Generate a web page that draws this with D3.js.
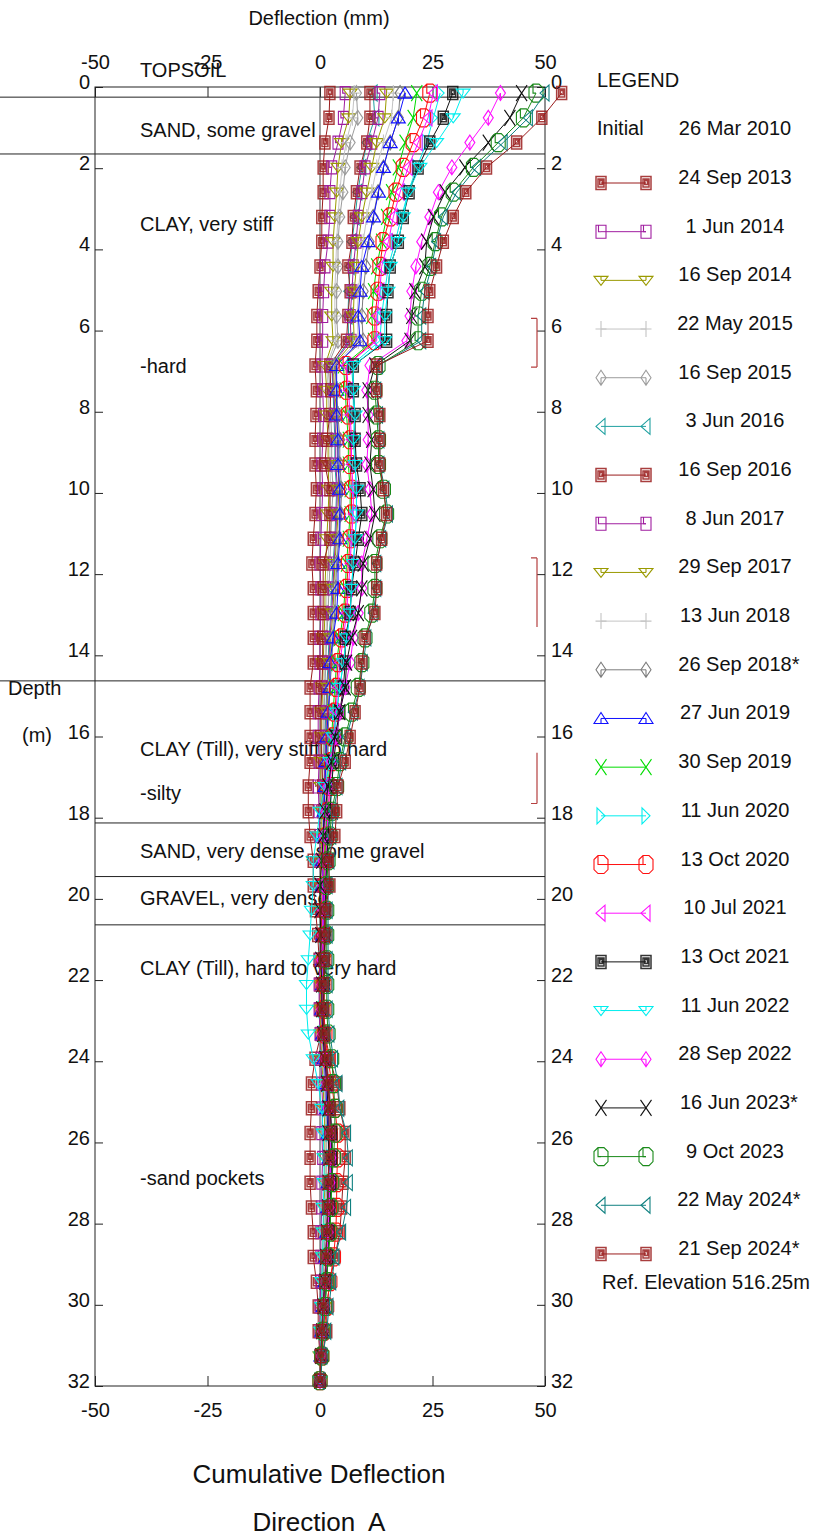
<!DOCTYPE html>
<html>
<head>
<meta charset="utf-8">
<script src="https://cdn.jsdelivr.net/npm/d3@7"></script>
<style>
  body { margin: 0; background: #fff; }
  svg text { font-family: "Liberation Sans", Arial, sans-serif; fill: #111; }
</style>
</head>
<body>
<svg id="chart" width="825" height="1539"></svg>
<script>
// Probe depths (m)
const depths = [0.15,0.76,1.37,1.98,2.59,3.20,3.81,4.42,5.03,5.64,6.25,6.86,7.47,8.08,8.69,9.30,9.91,10.52,11.13,11.74,12.35,12.96,13.57,14.18,14.79,15.40,16.01,16.62,17.23,17.84,18.45,19.06,19.67,20.28,20.89,21.50,22.11,22.72,23.33,23.94,24.55,25.16,25.77,26.38,26.99,27.60,28.21,28.82,29.43,30.04,30.65,31.26,31.87];

// Cumulative deflection (mm), direction A, one array per reading
const sep2013 = [2.2,2.0,1.1,0.7,0.7,0.4,0.4,0.0,-0.4,-0.7,-0.7, -1.1,-0.8,-0.9,-1.1,-1.1,-0.8,-1.1,-1.5,-1.8,-1.5, -1.5,-1.5,-1.5,-2.2,-2.2,-2.2,-2.2,-2.6,-2.6,-2.2, -1.5,-1.5,-1.0,-0.5,-0.2,0.0,0.0,0.2,-1.1,-1.9, -1.9,-2.2,-2.2,-2.2,-1.9,-1.5,-1.5,-0.8,-0.4,-0.4,0.0,0.0];
const jun2014 = [5.6,5.2,4.0,2.6,2.2,2.2,1.8,1.1,0.8,0.6,0.6, 0.4,0.6,0.8,0.6,0.4,0.6,0.4,0.2,0.0,0.2, 0.2,0.0,0.0,-0.2,-0.4,-0.4,-0.2,-0.4,-0.2,0.0, 0.0,0.2,0.4,0.2,0.0,-0.2,-0.2,0.0,0.2,0.4, 0.6,0.4,0.6,0.4,0.4,0.2,0.2,0.2,0.0,0.0,0.0,0.0];
const sep2014 = [6.7,6.4,4.8,4.0,3.7,3.3,2.9,2.9,2.6,2.6,2.9, 1.1,1.5,1.5,1.8,1.8,2.0,1.8,1.5,1.3,1.1, 1.1,0.9,0.7,0.6,0.4,0.4,0.2,0.2,0.4,0.4, 0.2,0.2,0.4,0.4,0.2,0.2,0.0,0.2,0.4,0.7, 0.9,1.1,1.1,1.1,0.9,0.7,0.6,0.4,0.4,0.2,0.0,0.0];
const may2015 = [7.6,7.2,5.8,4.9,4.4,4.0,3.7,3.5,3.3,3.3,3.5, 1.5,1.8,2.0,2.2,2.2,2.4,2.2,2.0,1.8,1.5, 1.5,1.3,1.1,0.9,0.7,0.7,0.6,0.4,0.6,0.6, 0.4,0.4,0.6,0.6,0.4,0.4,0.2,0.4,0.6,0.9, 1.1,1.3,1.3,1.3,1.1,0.9,0.7,0.6,0.4,0.2,0.2,0.0];
const sep2015 = [8.1,8.4,6.7,5.6,5.1,4.4,4.0,4.0,3.7,3.7,4.0, 1.8,2.2,2.4,2.6,2.6,2.9,2.6,2.4,2.2,2.0, 1.8,1.5,1.3,1.1,0.9,0.9,0.7,0.6,0.7,0.7, 0.6,0.6,0.7,0.7,0.6,0.4,0.4,0.6,0.7,1.1, 1.3,1.5,1.5,1.5,1.3,1.1,0.9,0.7,0.6,0.4,0.2,0.0];
const jun2016 = [11.8,12.2,10.4,9.3,8.4,7.8,7.1,6.7,6.4,6.2,6.4, 2.6,2.9,3.1,3.3,3.3,3.7,3.5,3.3,2.9,2.6, 2.4,2.0,1.8,1.5,1.3,1.1,1.1,0.9,0.9,0.9, 0.7,0.7,0.9,0.9,0.7,0.7,0.6,0.7,1.1,1.5, 1.8,2.0,2.2,2.0,1.8,1.5,1.3,1.1,0.7,0.4,0.2,0.0];
const sep2016 = [11.1,11.1,10.4,8.9,8.1,7.4,7.1,6.2,6.7,6.2,5.9, 2.2,2.4,2.2,1.5,1.1,2.2,2.2,2.2,0.7,0.7, 0.7,0.6,0.6,0.4,0.2,0.2,0.4,0.6,0.7,0.9, 0.9,0.7,0.4,0.4,0.7,0.7,0.9,1.1,2.2,3.7, 4.4,5.6,5.6,5.1,4.8,4.4,3.3,2.2,1.5,1.5,0.4,0.0];
const jun2017 = [13.3,12.9,11.5,10.0,9.3,8.5,8.0,7.4,7.1,6.7,6.9, 2.6,3.1,3.3,3.5,3.5,3.9,3.7,3.5,3.1,2.9, 2.6,2.2,2.0,1.7,1.5,1.3,1.1,0.9,0.9,0.9, 0.7,0.7,0.9,0.9,0.7,0.7,0.6,0.7,1.1,1.5, 1.8,2.0,2.2,2.2,2.0,1.7,1.5,1.1,0.7,0.4,0.2,0.0];
const sep2017 = [14.8,14.4,12.6,11.5,10.4,9.3,8.5,8.1,7.6,7.4,7.6, 2.9,3.3,3.7,3.9,4.0,4.2,4.0,3.7,3.3,3.1, 2.9,2.4,2.2,1.8,1.7,1.5,1.3,1.1,1.1,1.1, 0.9,0.9,1.1,1.1,0.9,0.7,0.7,0.9,1.3,1.8, 2.0,2.4,2.4,2.4,2.2,1.8,1.5,1.3,0.9,0.6,0.2,0.0];
const jun2018 = [16.3,15.9,14.1,12.6,11.5,10.4,9.6,9.1,8.5,8.3,8.5, 3.1,3.5,3.9,4.2,4.2,4.4,4.2,4.0,3.5,3.3, 3.1,2.6,2.4,2.0,1.8,1.7,1.5,1.3,1.3,1.3, 1.1,1.1,1.1,1.1,0.9,0.9,0.7,0.9,1.3,1.8, 2.2,2.4,2.6,2.4,2.2,2.0,1.7,1.3,0.9,0.6,0.2,0.0];
const sep2018 = [17.8,17.4,15.6,14.1,12.9,11.8,10.9,10.2,9.6,9.3,9.6, 3.3,3.7,4.0,4.4,4.4,4.8,4.6,4.2,3.7,3.5, 3.3,2.9,2.6,2.2,2.0,1.8,1.7,1.5,1.5,1.5, 1.3,1.1,1.3,1.3,1.1,1.1,0.9,1.1,1.5,2.0, 2.4,2.6,2.9,2.6,2.4,2.2,1.8,1.5,1.1,0.7,0.4,0.0];
const jun2019 = [18.9,17.4,15.6,14.1,13.0,11.9,10.7,9.3,8.9,8.5,8.9, 3.7,3.7,3.7,4.0,4.0,4.4,4.4,4.4,4.0,4.0, 3.7,2.9,2.2,2.2,1.8,1.5,1.3,1.1,0.9,0.7, 0.6,0.6,0.7,0.7,0.6,0.6,0.4,0.6,0.9,1.3, 1.5,1.8,2.0,1.8,1.7,1.5,1.3,1.1,0.7,0.4,0.2,0.0];
const sep2019 = [21.5,20.7,18.9,17.4,15.9,14.8,13.7,12.6,11.9,11.5,11.9, 5.2,5.6,5.9,6.3,6.3,6.7,6.7,6.3,5.9,5.6, 5.2,4.4,3.7,3.3,2.9,2.6,2.2,1.8,1.5,1.3, 1.1,1.1,1.1,1.1,0.9,0.9,0.7,0.9,1.3,1.8, 2.2,2.6,2.9,2.6,2.4,2.2,1.8,1.5,1.1,0.7,0.4,0.0];
const jun2020 = [26.7,25.2,23.7,21.5,19.6,18.1,16.7,15.2,14.4,13.7,13.3, 7.0,7.4,7.4,7.8,7.8,8.1,8.1,7.8,7.4,7.0, 6.7,5.9,5.2,4.4,3.7,3.3,2.9,2.6,2.2,1.8, 1.5,1.3,1.1,0.9,0.7,0.7,0.6,0.7,1.1,1.5, 1.8,2.2,2.4,2.2,2.0,1.8,1.5,1.3,0.9,0.6,0.4,0.0];
const oct2020 = [24.4,23.0,20.7,18.5,16.9,15.6,14.0,13.3,12.9,12.2,12.2, 5.8,5.9,6.3,6.7,6.7,7.0,7.0,6.7,6.3,5.9, 5.6,4.8,4.0,3.7,3.3,2.9,2.6,2.2,1.8,1.5, 1.3,1.1,1.1,1.1,0.9,0.9,0.9,1.1,1.8,2.6, 3.3,3.9,3.9,3.7,3.7,3.5,3.0,2.2,1.5,0.9,0.4,0.0];
const jul2021 = [25.2,24.0,21.8,19.6,17.8,16.3,15.2,13.7,13.3,12.6,12.6, 5.9,6.3,6.7,7.0,7.0,7.4,7.4,7.0,6.7,6.3, 5.9,5.2,4.4,4.0,3.5,3.1,2.6,2.2,1.8,1.5, 1.3,1.1,0.9,0.9,0.7,0.7,0.7,0.9,1.3,1.8, 2.2,2.6,2.6,2.4,2.2,2.0,1.7,1.3,0.9,0.6,0.4,0.0];
const oct2021 = [29.5,27.4,24.4,21.8,19.8,18.5,17.4,15.6,15.1,14.8,14.8, 7.4,7.4,7.8,7.8,8.1,8.9,9.3,8.5,7.8,7.0, 6.7,5.6,5.6,5.2,4.4,3.7,3.0,2.6,2.2,1.8, 1.5,1.3,1.1,1.1,0.9,0.9,0.7,0.9,1.3,1.8, 2.2,2.6,2.6,2.4,2.2,2.0,1.7,1.3,0.9,0.6,0.4,0.0];
const jun2022 = [31.8,29.6,25.9,22.2,19.6,18.5,17.4,15.6,15.1,14.4,14.4, 7.4,7.4,7.8,7.4,7.8,8.1,8.1,7.8,7.4,7.0, 6.7,5.9,5.2,4.4,3.7,2.9,2.2,1.1,0.0,-0.7, -1.5,-1.5,-1.9,-2.2,-2.6,-3.0,-3.0,-2.6,-1.5,-0.4, 0.4,0.7,0.9,0.9,0.7,0.7,0.6,0.4,0.4,0.2,0.2,0.0];
const sep2022 = [40.1,37.4,33.3,29.3,26.3,24.4,22.6,21.3,20.4,20.0,19.3, 11.1,10.4,10.7,10.7,10.4,11.1,11.5,10.4,9.3,9.3, 8.5,7.4,6.7,5.6,4.4,3.5,2.6,1.8,1.3,0.9, 0.7,0.6,0.6,0.6,0.4,0.4,0.4,0.6,1.1,1.5, 1.8,2.2,2.4,2.2,2.0,1.8,1.5,1.1,0.9,0.6,0.2,0.0];
const jun2023 = [44.8,42.2,37.4,32.2,27.8,25.2,23.7,23.3,21.1,20.4,20.0, 12.2,10.7,10.7,11.5,11.1,11.8,12.2,11.1,9.6,9.3, 8.5,7.0,5.9,5.6,4.4,3.3,2.6,1.8,1.1,0.7, 0.4,0.0,0.0,0.2,0.2,0.4,0.4,0.6,1.1,1.5, 1.8,1.8,2.0,1.8,1.7,1.5,1.3,1.1,0.7,0.4,0.2,0.0];
const oct2023 = [48.0,45.2,39.6,34.1,29.6,27.0,25.6,24.4,22.6,21.8,21.8, 12.9,12.2,12.6,13.0,13.0,14.1,14.8,13.3,12.2,12.2, 11.5,10.0,9.3,8.5,7.0,5.6,4.4,3.7,2.6,2.2, 1.8,1.5,1.5,1.5,1.5,1.5,1.5,1.8,2.6,3.0, 3.3,3.3,3.0,2.6,2.4,2.2,1.8,1.5,1.1,0.7,0.4,0.0];
const may2024 = [50.0,46.3,40.7,34.8,30.4,27.4,25.9,24.8,23.3,22.6,22.6, 13.0,12.6,13.0,13.3,13.3,14.4,15.2,13.7,12.6,12.6, 11.8,10.4,9.6,8.9,7.4,5.9,4.8,4.0,3.0,2.6, 2.2,1.8,1.8,1.8,1.8,1.8,1.8,2.2,3.0,4.0, 4.4,5.9,6.3,6.3,5.9,4.8,3.3,2.6,2.0,1.5,0.6,0.0];
const sep2024 = [53.7,49.3,43.7,37.0,32.4,29.6,27.4,25.9,24.4,24.0,24.0, 12.6,12.6,13.3,13.3,13.3,14.1,14.8,13.7,12.6,12.6, 12.2,10.0,9.3,8.9,7.8,6.7,5.6,4.0,3.7,3.3, 1.8,2.2,1.1,0.9,0.9,0.7,0.7,0.9,1.3,1.8, 2.2,2.2,2.0,1.8,1.7,1.5,1.3,1.1,0.7,0.4,0.2,0.0];

const readingValues = [sep2013, jun2014, sep2014, may2015, sep2015, jun2016, sep2016, jun2017, sep2017,
  jun2018, sep2018, jun2019, sep2019, jun2020, oct2020, jul2021, oct2021, jun2022, sep2022, jun2023,
  oct2023, may2024, sep2024];
const readingDates = ["24 Sep 2013", "1 Jun 2014", "16 Sep 2014", "22 May 2015", "16 Sep 2015", "3 Jun 2016",
  "16 Sep 2016", "8 Jun 2017", "29 Sep 2017", "13 Jun 2018", "26 Sep 2018*", "27 Jun 2019", "30 Sep 2019",
  "11 Jun 2020", "13 Oct 2020", "10 Jul 2021", "13 Oct 2021", "11 Jun 2022", "28 Sep 2022", "16 Jun 2023*",
  "9 Oct 2023", "22 May 2024*", "21 Sep 2024*"];

// Axis ticks
const xTicks = [-50, -25, 0, 25, 50];
const depthTicks = [0,2,4,6,8,10,12,14,16,18,20,22,24,26,28,30,32];

// Soil log: boundary depths and descriptions
const boundaryDepths = [0.25, 1.65, 14.63, 18.13, 19.45, 20.64];
const soilLabels = ["TOPSOIL", "SAND, some gravel", "CLAY, very stiff", "-hard", "CLAY (Till), very stiff to hard",
  "-silty", "SAND, very dense, some gravel", "GRAVEL, very dense", "CLAY (Till), hard to very hard", "-sand pockets"];
const soilLabelDepths = [-0.42, 1.06, 3.37, 6.87, 16.31, 17.39, 18.82, 19.98, 21.70, 26.87];

// Flagged depth intervals on the right edge: [top, bottom]
const flaggedZones = [[5.7, 6.9], [11.6, 13.3], [16.4, 17.65]];

// ---- drawing ----
const svg = d3.select("#chart");
const x = d3.scaleLinear().domain([-50, 50]).range([95, 545]);
const y = d3.scaleLinear().domain([0, 32]).range([87, 1386]);
const plainNumber = d => String(d);

// marker glyphs, centred on the point
const glyph = {
  boxSquare: "M-5,-6.5H5V6.5H-5Z M-3,-4H3V4H-3Z M-1.3,-2.5H1.5V1.5H-1.3Z",
  square: "M-5,-6.5H5V6.5H-5Z M-2.5,-6.5V0H0",
  triDown: "M-7,-4H7L0,5Z M0,-4V0",
  triUp: "M0,-6L7,5H-7Z M0,0V5",
  triLeft: "M-5,0L4,-8V8Z",
  triRight: "M-4,-8L4,0L-4,8Z",
  diamond: "M0,-7.5L5,0L0,7.5L-5,0Z M0,0V7.5",
  plus: "M-5.5,0H5.5 M0,-8V8",
  cross: "M-5.5,-8L5.5,8 M5.5,-8L-5.5,8",
  octagon: "M-3,-9H3L7,-5V5L3,9H-3L-7,5V-5Z M-3,-9V0H0"
};
const readingStyle = [
  ["#9a1c1c", "boxSquare"], ["#a01ea0", "square"], ["#9a9a00", "triDown"], ["#c4c4c4", "plus"],
  ["#9c9c9c", "diamond"], ["#1fa0a0", "triLeft"], ["#9a1c1c", "boxSquare"], ["#a01ea0", "square"],
  ["#9a9a00", "triDown"], ["#c4c4c4", "plus"], ["#7c7c7c", "diamond"], ["#1010ff", "triUp"],
  ["#00dd00", "cross"], ["#00eeee", "triRight"], ["#ff1010", "octagon"], ["#ff10ff", "triLeft"],
  ["#111111", "boxSquare"], ["#00eeee", "triDown"], ["#ff10ff", "diamond"], ["#111111", "cross"],
  ["#1a8a1a", "octagon"], ["#0f8080", "triLeft"], ["#9a1c1c", "boxSquare"]
];

function drawMarker(g, cx, cy, color, kind) {
  g.append("path")
    .attr("d", glyph[kind])
    .attr("transform", `translate(${cx},${cy})`)
    .attr("fill", "none")
    .attr("stroke", color)
    .attr("stroke-width", kind === "boxSquare" ? 1.5 : 1.1)
    .attr("stroke-opacity", kind === "boxSquare" ? 0.85 : 1);
}

const fontSize = 20;

// titles
svg.append("text").attr("x", 319).attr("y", 25).attr("text-anchor", "middle")
  .attr("font-size", fontSize).text("Deflection (mm)");
svg.append("text").attr("x", 8).attr("y", 695).attr("font-size", fontSize).text("Depth");
svg.append("text").attr("x", 37).attr("y", 742).attr("text-anchor", "middle").attr("font-size", fontSize).text("(m)");
svg.append("text").attr("x", 319).attr("y", 1483).attr("text-anchor", "middle")
  .attr("font-size", 26).text("Cumulative Deflection");
svg.append("text").attr("x", 319).attr("y", 1531).attr("text-anchor", "middle")
  .attr("font-size", 26).style("white-space", "pre").text("Direction  A");

// soil boundaries
svg.append("g").selectAll("line").data(boundaryDepths).join("line")
  .attr("x1", d => d < 15 ? 0 : x(-50)).attr("x2", x(50))
  .attr("y1", d => y(d)).attr("y2", d => y(d))
  .attr("stroke", "#222").attr("stroke-width", 1);

// soil descriptions
svg.append("g").selectAll("text").data(soilLabels).join("text")
  .attr("x", 140).attr("y", (d, i) => y(soilLabelDepths[i]) + 7)
  .attr("font-size", fontSize).text(d => d);

// frame
svg.append("rect").attr("x", x(-50)).attr("y", y(0)).attr("width", x(50) - x(-50)).attr("height", y(32) - y(0))
  .attr("fill", "none").attr("stroke", "#222").attr("stroke-width", 1);

// axes
function styleAxis(g, dy) {
  g.select(".domain").remove();
  g.attr("font-size", fontSize).attr("font-family", '"Liberation Sans", Arial, sans-serif');
  g.selectAll(".tick line").attr("stroke", "#222");
  g.selectAll(".tick text").attr("fill", "#111");
  if (dy) g.selectAll(".tick text").attr("dy", dy);
}
svg.append("g").attr("transform", `translate(${x(-50)},0)`)
  .call(d3.axisLeft(y).tickValues(depthTicks).tickFormat(plainNumber).tickSize(-8).tickPadding(5))
  .call(g => styleAxis(g, "0.08em"));
svg.append("g").attr("transform", `translate(${x(50)},0)`)
  .call(d3.axisRight(y).tickValues(depthTicks).tickFormat(plainNumber).tickSize(-8).tickPadding(6))
  .call(g => styleAxis(g, "0.08em"));
svg.append("g").attr("transform", `translate(0,${y(0)})`)
  .call(d3.axisTop(x).tickValues(xTicks).tickFormat(plainNumber).tickSize(-10).tickPadding(18))
  .call(g => styleAxis(g, null));
svg.append("g").attr("transform", `translate(0,${y(32)})`)
  .call(d3.axisBottom(x).tickValues(xTicks).tickFormat(plainNumber).tickSize(-10).tickPadding(17))
  .call(g => styleAxis(g, null));

// flagged zones
const flagColor = "#b54040";
flaggedZones.forEach((z, i) => {
  const xv = x(50) - 8;
  let d = `M${xv},${y(z[0])}V${y(z[1])}`;
  if (i !== 2) d += `M${xv - 6},${y(z[0])}H${xv}`;
  if (i !== 1) d += `M${xv - 6},${y(z[1])}H${xv}`;
  svg.append("path").attr("d", d).attr("fill", "none").attr("stroke", flagColor).attr("stroke-width", 1.2);
});

// initial reading reference (zero deflection)
svg.append("line").attr("x1", x(0)).attr("x2", x(0)).attr("y1", y(0)).attr("y2", y(32))
  .attr("stroke", "#444").attr("stroke-width", 1);

// readings
const line = d3.line().x(d => x(d[1])).y(d => y(d[0]));
const plotG = svg.append("g");
readingValues.forEach((vals, k) => {
  const [color, kind] = readingStyle[k];
  const pts = depths.map((dp, i) => [dp, vals[i]]);
  const g = plotG.append("g");
  g.append("path").attr("d", line(pts)).attr("fill", "none").attr("stroke", color).attr("stroke-width", 1);
  pts.forEach(p => drawMarker(g, x(p[1]), y(p[0]), color, kind));
});

// legend
const lg = svg.append("g");
lg.append("text").attr("x", 597).attr("y", 87).attr("font-size", fontSize).text("LEGEND");
lg.append("text").attr("x", 597).attr("y", 135).attr("font-size", fontSize).text("Initial");
lg.append("text").attr("x", 735).attr("y", 135).attr("text-anchor", "middle").attr("font-size", fontSize).text("26 Mar 2010");
const rowStep = 48.68;
readingDates.forEach((label, k) => {
  const yc = 177 + k * rowStep;
  const [color, kind] = readingStyle[k];
  const ly = yc + 6;
  lg.append("line").attr("x1", 601).attr("x2", 646).attr("y1", ly).attr("y2", ly)
    .attr("stroke", color).attr("stroke-width", 1);
  drawMarker(lg, 601, ly, color, kind);
  drawMarker(lg, 646, ly, color, kind);
  const star = label.endsWith("*");
  const base = star ? label.slice(0, -1) : label;
  const t = lg.append("text").attr("x", 735).attr("y", yc + 7).attr("text-anchor", "middle")
    .attr("font-size", fontSize).text(base);
  if (star) {
    const w = t.node().getComputedTextLength();
    lg.append("text").attr("x", 735 + w / 2).attr("y", yc + 7).attr("font-size", fontSize).text("*");
  }
});
lg.append("text").attr("x", 602).attr("y", 1289).attr("font-size", fontSize).text("Ref. Elevation 516.25m");
</script>
</body>
</html>
